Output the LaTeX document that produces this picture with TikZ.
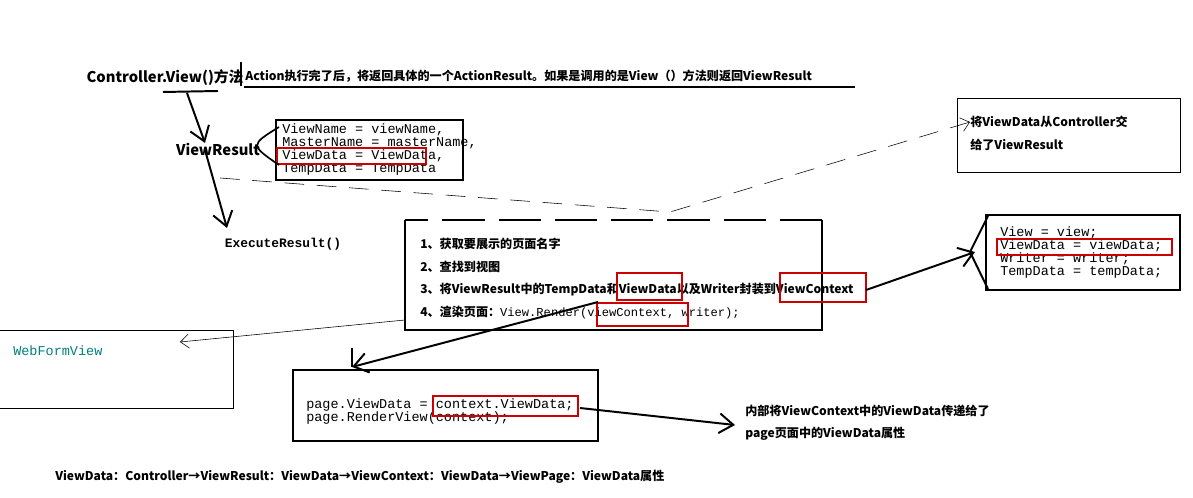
\documentclass[tikz,border=0pt]{standalone}
\usepackage{fontspec}
\setmainfont{Noto Sans CJK SC}
\setmonofont{Liberation Mono}
\usetikzlibrary{arrows.meta}

\begin{document}
\begin{tikzpicture}[
    x=0.025cm, y=-0.025cm,
    title/.style={font=\fontsize{10.5}{12}\selectfont\bfseries, inner sep=0},
    note/.style={font=\fontsize{8.6}{10}\selectfont\bfseries, anchor=west, inner sep=0},
    code/.style={font=\fontsize{9.6}{10}\selectfont\ttfamily, anchor=west, inner sep=0},
    frame/.style={draw, line width=1.6pt},
    thinframe/.style={draw, line width=0.6pt},
    redbox/.style={draw=red!80!black, line width=1.5pt},
    flow/.style={-{Straight Barb[length=10pt, width=14pt]}, line width=1.4pt},
    thinflow/.style={-{Straight Barb[length=6pt, width=10pt]}, line width=0.4pt}
    ]
    \useasboundingbox [fill=white] (0,0) rectangle (1193,498);

    % top line
    \node [title] (ctrl) at (165,78) {Controller.View()方法};
    \draw [line width=1.4pt] (163,92) -- (218,91);
    \draw [line width=1.2pt] (241,62) -- (241,86);
    \node [note] (action) at (245,76) {Action执行完了后，将返回具体的一个ActionResult。如果是调用的是View（）方法则返回ViewResult};
    \draw [line width=1.2pt] (244,87) -- (855,87);

    % ViewResult
    \node [title] (vr) at (218,149) {ViewResult};
    \draw [frame] (276,120) rectangle (463,180);
    \node [code] (vr1) at (282,130) {ViewName = viewName,};
    \node [code] (vr2) at (282,143) {MasterName = masterName,};
    \node [code] (vr3) at (282,156) {ViewData = ViewData,};
    \node [code] (vr4) at (282,169) {TempData = TempData};
    \draw [redbox] (277,148) rectangle (426,164);
    \draw [line width=1.2pt] (279,127) .. controls (250,145) .. (279,165);
    \node [font=\fontsize{9.2}{10}\selectfont\ttfamily\bfseries] (exec) at (283,244) {ExecuteResult()};
    \coordinate (c0) at (187,93);
    \coordinate (c1) at (205,150);
    \draw [flow] (c0) -- (205,143);
    \draw [flow] (c1) -- (227,228);

    % note box
    \draw [thinframe] (957,98) rectangle (1180,172);
    \node [note] (hand) at (970,122) {将ViewData从Controller交};
    \node [note] (hand2) at (970,145) {给了ViewResult};
    \draw [thinflow, dash pattern=on 14pt off 9pt] (220,178) -- (670,212) -- (hand.west);

    % steps box
    \draw [line width=1.6pt, dash pattern=on 30pt off 10pt] (822,220) -- (405,220);
    \draw [frame] (822,220) -- (822,330) -- (405,330) -- (405,220);
    \node [note] (s1) at (420,244) {1、获取要展示的页面名字};
    \node [note] (s2) at (420,267) {2、查找到视图};
    \node [note] (s3) at (420,290) {3、将ViewResult中的TempData和ViewData以及Writer封装到ViewContext};
    \node [note] (s4) at (420,313) {4、渲染页面：\mdseries\texttt{View.Render(viewContext, writer);}};
    \draw [redbox] (617,273) rectangle (682,300);
    \draw [redbox] (780,273) rectangle (866,302);
    \draw [redbox] (597,303) rectangle (688,326);

    % view context box
    \draw [frame] (986,215) rectangle (1180,290);
    \node [code] (vc1) at (1000,233) {View = view;};
    \node [code] (vc2) at (1000,246) {ViewData = viewData;};
    \node [code] (vc3) at (1000,259) {Writer = writer;};
    \node [code] (vc4) at (1000,272) {TempData = tempData;};
    \draw [redbox] (997,239) rectangle (1172,255);
    \draw [line width=1.4pt] (988,216) -- (970,252) -- (988,289);
    \draw [flow] (866,290) -- (975,252);

    % web form view
    \draw [thinframe] (-5,330) -- (233,330) -- (233,408) -- (-5,408);
    \node [code, text=teal] (wfv) at (13,351) {WebFormView};
    \draw [thinflow] (405,320) -- (180,342);

    % page box
    \draw [frame] (293,370) rectangle (598,441);
    \node [code] (p1) at (306,405) {page.ViewData = context.ViewData;};
    \node [code] (p2) at (306,418) {page.RenderView(context);};
    \draw [redbox] (433,396) rectangle (578,416);
    \draw [flow] (598,302) -- (352,367);
    \draw [line width=1.4pt] (352,348) -- (352,367);
    \node [note] (inner) at (745,411) {内部将ViewContext中的ViewData传递给了};
    \node [note] (inner2) at (745,434) {page页面中的ViewData属性};
    \draw [flow] (580,408) -- (735,425);

    % bottom summary
    \node [note] (sum) at (55,477) {ViewData：Controller→ViewResult：ViewData→ViewContext：ViewData→ViewPage：ViewData属性};
\end{tikzpicture}
\end{document}
